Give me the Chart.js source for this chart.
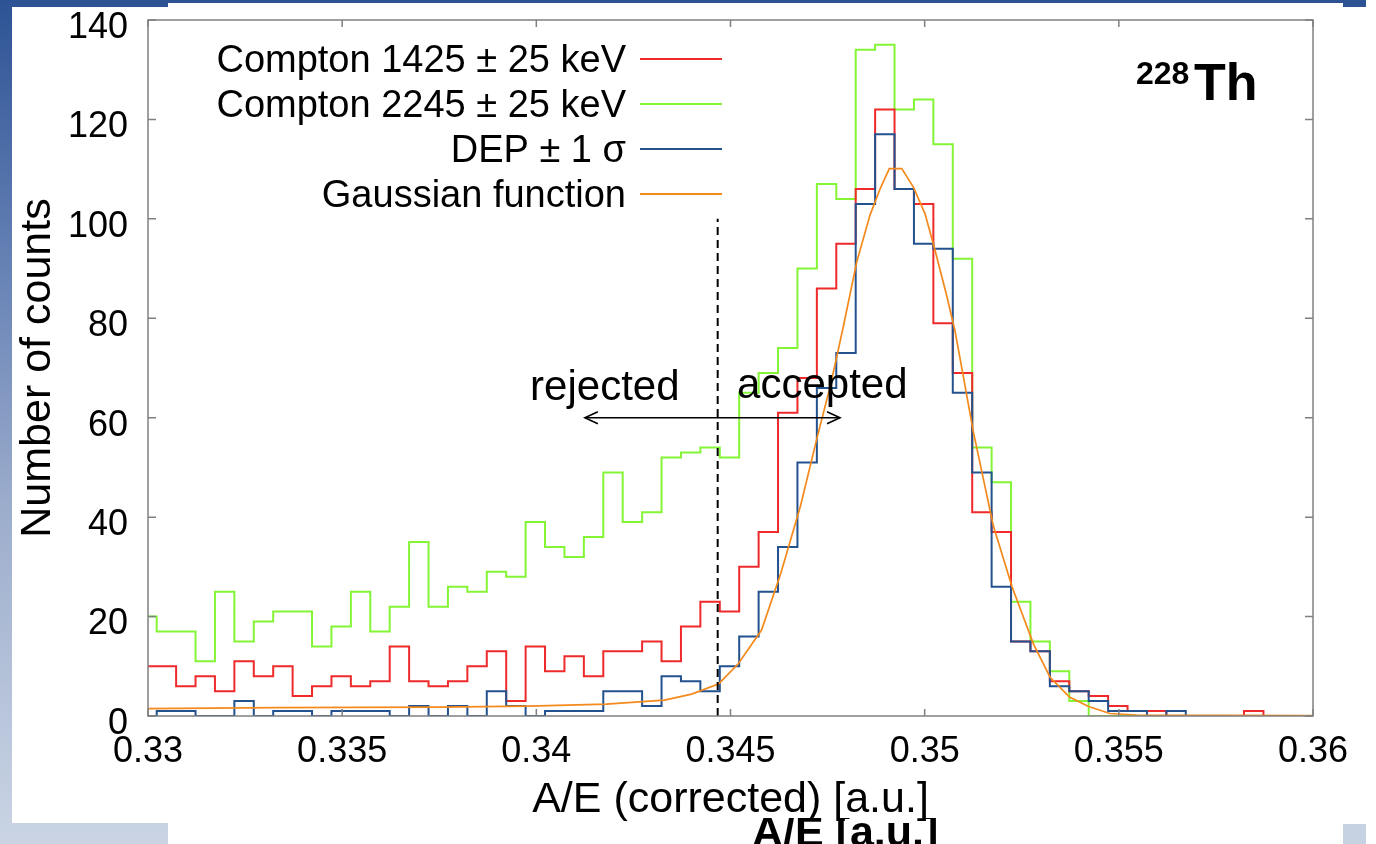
<!DOCTYPE html>
<html>
<head>
<meta charset="utf-8">
<title>A/E (corrected) - 228Th</title>
<script src="https://cdn.jsdelivr.net/npm/chart.js@4.4.1/dist/chart.umd.min.js"></script>
<style>
  html, body { margin: 0; padding: 0; background: #fff; }
  canvas { display: block; }
</style>
</head>
<body>
<canvas id="canvas" width="1376" height="844"></canvas>
<script>
// histogram binning: first bin is a partial one starting at the left axis
const xMin = 0.33, xMax = 0.36;
const firstEdge = 0.330224;
const binWidth = 0.0005;

const seriesLabels = ['Compton 1425 ± 25 keV', 'Compton 2245 ± 25 keV', 'DEP ± 1 σ', 'Gaussian function'];

const compton1425 = [
  10, 10, 6, 8, 5, 11, 8, 10, 4, 6,
  8, 6, 7, 14, 7, 6, 7, 10, 13, 3,
  14, 9, 12, 8, 13, 13, 15, 11, 18, 23,
  21, 30, 37, 61, 68, 86, 95, 106, 122, 106,
  103, 79, 69, 41, 37, 15, 13, 7, 5, 4,
  2, 1, 1, 0, 0, 0, 0, 1, 0, 0,
  0
];
const compton2245 = [
  20, 17, 17, 11, 25, 15, 19, 21, 21, 14,
  18, 25, 17, 22, 35, 22, 26, 25, 29, 28,
  39, 34, 32, 36, 49, 39, 41, 52, 53, 54,
  52, 65, 69, 74, 90, 107, 104, 134, 135, 122,
  124, 115, 92, 54, 47, 23, 15, 9, 3, 0,
  0, 0, 0, 0, 0, 0, 0, 0, 0, 0,
  0
];
const dep = [
  0, 1, 1, 0, 0, 3, 0, 1, 1, 0,
  1, 1, 1, 0, 2, 0, 2, 0, 5, 2,
  0, 1, 1, 1, 5, 5, 2, 8, 7, 5,
  10, 16, 25, 34, 51, 66, 73, 103, 117, 106,
  95, 94, 65, 49, 26, 15, 13, 6, 5, 3,
  1, 1, 0, 1, 0, 0, 0, 0, 0, 0,
  0
];

// fitted curve
const gaussX = [0.3300, 0.3333, 0.3375, 0.3398, 0.3418, 0.3433, 0.3440, 0.3447, 0.3452, 0.3458,
                0.3463, 0.3468, 0.34724, 0.34757, 0.34774, 0.34791, 0.34825, 0.34859, 0.34885, 0.34909,
                0.34941, 0.34971, 0.35001, 0.35027, 0.35057, 0.35078, 0.35104, 0.35125, 0.35177, 0.35225,
                0.3528, 0.35323, 0.35373, 0.35422, 0.35477, 0.35546, 0.3600];
const gaussY = [1.5, 1.7, 1.8, 2.0, 2.4, 3.2, 4.4, 6.5, 10.5, 17.3,
                28.8, 42.2, 56.3, 66.4, 72.4, 78.5, 91.3, 100.7, 106, 110.1,
                110.1, 106.4, 101, 93.6, 84.5, 77.5, 66.4, 57.3, 38.2, 26,
                14.5, 7.8, 3.8, 1.9, 0.5, 0.2, 0.1];

// cut value and the rejected/accepted arrow
const cutX = [0.34467, 0.34467];
const cutY = [0, 100];
const arrowX = [0.34125, 0.34782];
const arrowY = [60, 60];

const yTicks = [0, 20, 40, 60, 80, 100, 120, 140];

// text anchors in data units
const rejectedPos = { x: 0.33984, y: 63.5 };
const acceptedPos = { x: 0.34517, y: 64 };

const colors = ['#ee2a2a', '#84f535', '#23528f', '#f4891c'];
const FONT = '"Liberation Sans", Arial, sans-serif';

function histPoints(counts) {
    const pts = [{ x: xMin, y: counts[0] }];
    for (let k = 1; k < counts.length; k++) {
        pts.push({ x: firstEdge + (k - 1) * binWidth, y: counts[k] });
    }
    pts.push({ x: xMax, y: counts[counts.length - 1] });
    return pts;
}

function pairs(xs, ys) {
    return xs.map((v, i) => ({ x: v, y: ys[i] }));
}

// slide behind the picture (blue frame + caption peeking out)
const backgroundPlugin = {
    id: 'slideBackground',
    beforeDraw(chart) {
        const ctx = chart.ctx;
        const w = chart.width, h = chart.height;
        ctx.save();
        ctx.fillStyle = '#ffffff';
        ctx.fillRect(0, 0, w, h);
        const g = ctx.createLinearGradient(0, 0, 0, h);
        g.addColorStop(0, '#2d5395');
        g.addColorStop(0.36, '#6e88b9');
        g.addColorStop(0.6, '#9cadcc');
        g.addColorStop(1, '#cad4e4');
        ctx.fillStyle = g;
        ctx.fillRect(0, 0, 12, h);
        ctx.fillRect(0, 0, 168, 7);
        ctx.fillRect(0, 823, 168, h - 823);
        ctx.fillStyle = '#2d5395';
        ctx.fillRect(0, 0, 1366, 3);
        ctx.fillRect(1343, 0, 23, 7);
        ctx.fillStyle = '#c6d1e2';
        ctx.fillRect(1343, 824, 23, h - 824);

        ctx.beginPath();
        ctx.rect(0, 818, w, h - 818);
        ctx.clip();
        ctx.fillStyle = '#000';
        ctx.font = 'bold 43px ' + FONT;
        ctx.textBaseline = 'alphabetic';
        ctx.fillText('A/E [a.u.]', 752, 846);
        ctx.restore();
    }
};

// box around the plot with inward ticks on all four sides
const framePlugin = {
    id: 'frame',
    afterDatasetsDraw(chart) {
        const { ctx, chartArea: a, scales: { x, y } } = chart;
        ctx.save();
        ctx.strokeStyle = '#808080';
        ctx.lineWidth = 1.5;
        ctx.strokeRect(a.left, a.top, a.right - a.left, a.bottom - a.top);
        ctx.beginPath();
        x.ticks.forEach(t => {
            const px = x.getPixelForValue(t.value);
            ctx.moveTo(px, a.bottom); ctx.lineTo(px, a.bottom - 7);
            ctx.moveTo(px, a.top); ctx.lineTo(px, a.top + 7);
        });
        y.ticks.forEach(t => {
            const py = y.getPixelForValue(t.value);
            ctx.moveTo(a.left, py); ctx.lineTo(a.left + 8, py);
            ctx.moveTo(a.right, py); ctx.lineTo(a.right - 8, py);
        });
        ctx.stroke();
        ctx.restore();
    }
};

const annotationPlugin = {
    id: 'annotations',
    afterDatasetsDraw(chart) {
        const { ctx, scales: { x, y } } = chart;
        ctx.save();

        // arrow heads
        const py = y.getPixelForValue(arrowY[0]);
        const l = x.getPixelForValue(arrowX[0]);
        const r = x.getPixelForValue(arrowX[1]);
        ctx.strokeStyle = '#000';
        ctx.lineWidth = 1.6;
        ctx.beginPath();
        ctx.moveTo(l + 13, py - 6); ctx.lineTo(l, py); ctx.lineTo(l + 13, py + 6);
        ctx.moveTo(r - 13, py - 6); ctx.lineTo(r, py); ctx.lineTo(r - 13, py + 6);
        ctx.stroke();

        ctx.fillStyle = '#000';
        ctx.textBaseline = 'alphabetic';
        ctx.textAlign = 'left';
        ctx.font = '42px ' + FONT;
        ctx.fillText('rejected', x.getPixelForValue(rejectedPos.x), y.getPixelForValue(rejectedPos.y));
        ctx.fillText('accepted', x.getPixelForValue(acceptedPos.x), y.getPixelForValue(acceptedPos.y));

        // legend: text right aligned, line sample on the right
        ctx.font = '38px ' + FONT;
        ctx.textAlign = 'right';
        seriesLabels.forEach((label, i) => {
            const base = 72 + i * 45;
            ctx.fillStyle = '#000';
            ctx.fillText(label, 626, base);
            ctx.strokeStyle = colors[i];
            ctx.lineWidth = 2;
            ctx.beginPath();
            ctx.moveTo(640, base - 13);
            ctx.lineTo(722, base - 13);
            ctx.stroke();
        });

        // isotope tag
        ctx.textAlign = 'left';
        ctx.fillStyle = '#000';
        ctx.font = 'bold 32px ' + FONT;
        ctx.fillText('228', 1136, 84);
        ctx.font = 'bold 52px ' + FONT;
        ctx.fillText('Th', 1194, 100);
        ctx.restore();
    }
};

const stepStyle = { stepped: 'before', pointRadius: 0, borderWidth: 2, fill: false };

const ctx = document.getElementById('canvas').getContext('2d');
const chart = new Chart(ctx, {
    type: 'line',
    data: {
        datasets: [
            { label: 'arrow', data: pairs(arrowX, arrowY), borderColor: '#000', borderWidth: 1.6, pointRadius: 0, order: 0 },
            { label: 'cut', data: pairs(cutX, cutY), borderColor: '#000', borderWidth: 2, borderDash: [8, 5], pointRadius: 0, order: 1 },
            { label: seriesLabels[3], data: pairs(gaussX, gaussY), borderColor: colors[3], borderWidth: 1.7, pointRadius: 0, tension: 0, order: 2 },
            { label: seriesLabels[2], data: histPoints(dep), borderColor: colors[2], ...stepStyle, order: 3 },
            { label: seriesLabels[0], data: histPoints(compton1425), borderColor: colors[0], ...stepStyle, order: 4 },
            { label: seriesLabels[1], data: histPoints(compton2245), borderColor: colors[1], ...stepStyle, order: 5 }
        ]
    },
    options: {
        responsive: false,
        animation: false,
        devicePixelRatio: 1,
        layout: { padding: { left: 0, right: 63, top: 20, bottom: 0 } },
        plugins: {
            legend: { display: false },
            tooltip: { enabled: false }
        },
        scales: {
            x: {
                type: 'linear',
                min: xMin,
                max: xMax,
                grid: { display: false, drawTicks: false },
                border: { display: false },
                ticks: {
                    stepSize: 0.005,
                    padding: 18,
                    color: '#000',
                    font: { family: FONT, size: 36, lineHeight: 1 },
                    maxRotation: 0,
                    callback: (v) => parseFloat(v.toFixed(3)).toString()
                },
                title: {
                    display: true,
                    text: 'A/E (corrected) [a.u.]',
                    color: '#000',
                    font: { family: FONT, size: 43 },
                    padding: { top: 0, bottom: 18 }
                },
                afterFit: (s) => { s.height = 128; }
            },
            y: {
                min: 0,
                max: 140,
                // invisible tick marks give the label gap without extra top padding
                grid: { display: true, drawOnChartArea: false, drawTicks: true, tickLength: 20, tickColor: 'rgba(0,0,0,0)' },
                border: { display: false },
                afterBuildTicks: (s) => { s.ticks = yTicks.map(v => ({ value: v })); },
                ticks: {
                    padding: 0,
                    labelOffset: 8,
                    color: '#000',
                    font: { family: FONT, size: 36, lineHeight: 1 }
                },
                title: {
                    display: true,
                    text: 'Number of counts',
                    color: '#000',
                    font: { family: FONT, size: 43 },
                    padding: { top: 12, bottom: 0 }
                },
                afterFit: (s) => { s.width = 148; }
            }
        }
    },
    plugins: [backgroundPlugin, framePlugin, annotationPlugin]
});
</script>
</body>
</html>
